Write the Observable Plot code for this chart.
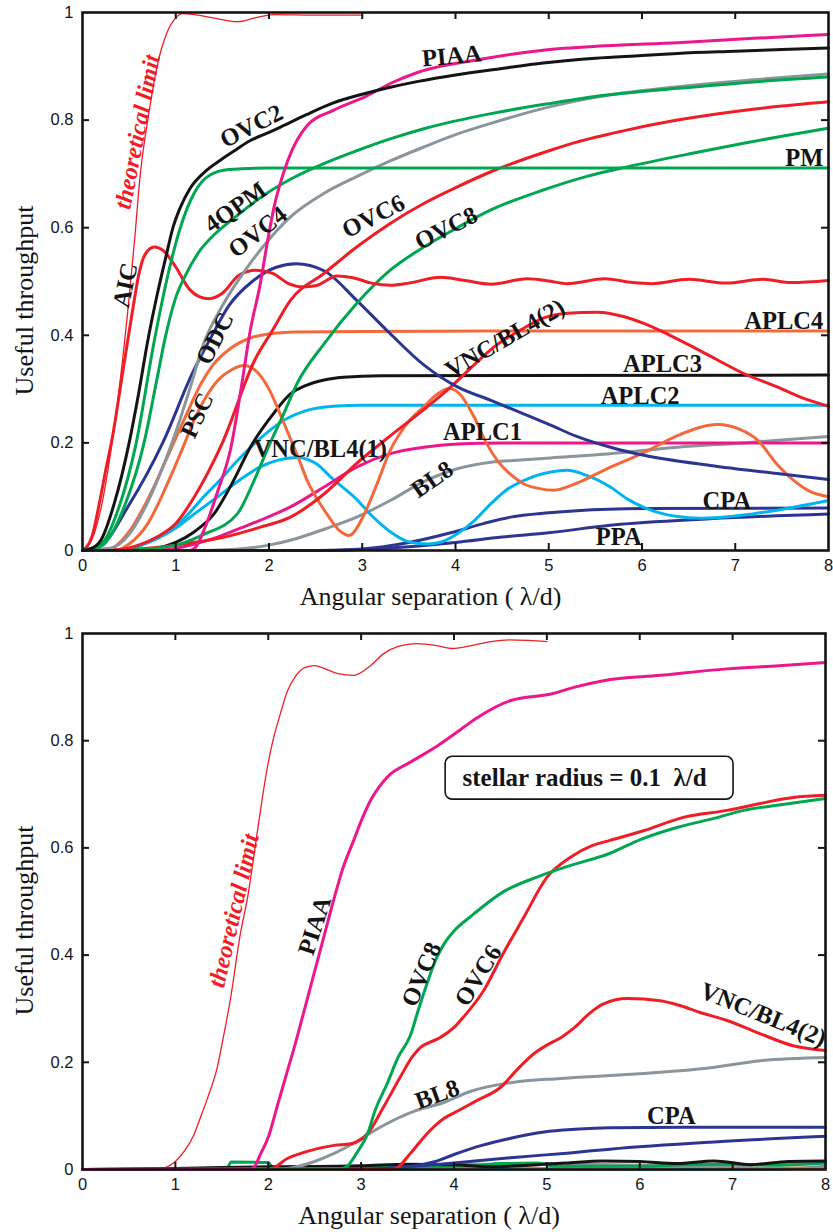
<!DOCTYPE html>
<html><head><meta charset="utf-8">
<script src="https://cdn.jsdelivr.net/npm/d3@7"></script>
<script src="https://cdn.jsdelivr.net/npm/@observablehq/plot@0.6"></script>
<style>
body{margin:0;background:#fff;}
#chart{width:833px;}
#chart svg{display:block;}
</style></head><body><div id="chart"></div>
<script>
// ---------- axis ticks ----------
const xTicks = [0,1,2,3,4,5,6,7,8];
const yTicks = [0,0.2,0.4,0.6,0.8,1];

// ---------- top panel series: [angular separation, useful throughput] ----------
const topTheory = [[0,0],[0.1,0.02],[0.2,0.08],[0.3,0.18],[0.4,0.31],[0.5,0.47],[0.56,0.58],[0.62,0.7],[0.7,0.8],[0.8,0.9],[0.9,0.96],[1.0,0.99],[1.07,0.998],[1.2,0.996],[1.4,0.99],[1.66,0.983],[1.85,0.99],[2.05,0.996],[2.5,0.995],[3.0,0.995]];
const topAIC = [[0,0],[0.1,0.025],[0.18,0.087],[0.25,0.15],[0.32,0.21],[0.43,0.33],[0.55,0.46],[0.6,0.51],[0.67,0.55],[0.77,0.564],[0.875,0.556],[1.0,0.527],[1.14,0.487],[1.25,0.472],[1.36,0.468],[1.5,0.478],[1.68,0.512],[1.86,0.521],[2.04,0.515],[2.21,0.496],[2.36,0.49],[2.5,0.492],[2.73,0.51],[2.9,0.507],[3.1,0.497],[3.3,0.493],[3.5,0.497],[3.84,0.508],[4.1,0.502],[4.38,0.495],[4.77,0.505],[5.0,0.501],[5.2,0.496],[5.6,0.505],[5.9,0.498],[6.1,0.496],[6.5,0.504],[6.9,0.497],[7.3,0.504],[7.6,0.498],[8,0.502]];
const topOVC2 = [[0,0],[0.1,0.004],[0.2,0.02],[0.34,0.087],[0.5,0.2],[0.6,0.29],[0.7,0.39],[0.8,0.475],[0.9,0.55],[0.97,0.6],[1.05,0.638],[1.15,0.672],[1.32,0.705],[1.5,0.728],[1.62,0.742],[1.8,0.762],[2.0,0.777],[2.16,0.79],[2.4,0.81],[2.69,0.832],[3.0,0.848],[3.3,0.861],[3.6,0.872],[4.0,0.884],[4.5,0.896],[4.94,0.906],[5.5,0.915],[6.0,0.92],[6.38,0.924],[7.0,0.928],[7.5,0.931],[8.0,0.934]];
const topPM = [[0,0],[0.2,0.012],[0.39,0.08],[0.57,0.195],[0.77,0.39],[0.9,0.5],[1.04,0.595],[1.2,0.665],[1.36,0.697],[1.57,0.708],[2.0,0.711],[3,0.711],[8,0.711]];
const top4QPM = [[0,0],[0.2,0.008],[0.46,0.087],[0.66,0.2],[0.8,0.32],[0.88,0.39],[1.0,0.47],[1.1,0.51],[1.27,0.56],[1.4,0.585],[1.64,0.62],[1.9,0.655],[2.23,0.69],[2.6,0.72],[2.94,0.743],[3.3,0.765],[3.66,0.784],[4.38,0.812],[5.02,0.831],[5.6,0.846],[6.38,0.859],[7.2,0.871],[8,0.88]];
const topOVC4 = [[0,0],[0.3,0.004],[0.5,0.03],[0.7,0.09],[0.85,0.15],[1.0,0.22],[1.15,0.3],[1.3,0.385],[1.5,0.455],[1.75,0.522],[2.0,0.578],[2.23,0.62],[2.6,0.665],[2.94,0.695],[3.3,0.724],[3.66,0.75],[4.0,0.773],[4.38,0.794],[5.02,0.825],[5.66,0.847],[6.38,0.862],[7.2,0.875],[8,0.886]];
const topODC = [[0,0],[0.2,0.01],[0.5,0.085],[0.86,0.2],[1.18,0.33],[1.39,0.4],[1.57,0.455],[1.82,0.5],[2.07,0.526],[2.29,0.533],[2.59,0.52],[2.94,0.465],[3.3,0.403],[3.66,0.345],[4.02,0.304],[4.38,0.279],[4.73,0.254],[5.02,0.233],[5.3,0.212],[5.7,0.19],[6.02,0.177],[6.73,0.158],[7.45,0.143],[8,0.132]];
const topPSC = [[0,0],[0.35,0],[0.5,0.012],[0.7,0.05],[0.9,0.12],[1.05,0.18],[1.23,0.255],[1.45,0.316],[1.6,0.336],[1.73,0.344],[1.86,0.334],[2.0,0.3],[2.1,0.262],[2.2,0.22],[2.32,0.17],[2.41,0.13],[2.52,0.095],[2.62,0.068],[2.75,0.038],[2.86,0.028],[3.0,0.06],[3.15,0.12],[3.3,0.186],[3.5,0.24],[3.66,0.267],[3.8,0.29],[3.93,0.301],[4.05,0.29],[4.2,0.248],[4.33,0.2],[4.45,0.167],[4.6,0.14],[4.73,0.124],[4.9,0.115],[5.05,0.112],[5.3,0.125],[5.6,0.15],[6.02,0.182],[6.4,0.215],[6.81,0.234],[7.05,0.225],[7.24,0.205],[7.45,0.16],[7.63,0.13],[7.8,0.11],[8,0.1]];
const topAPLC4 = [[0,0],[0.3,0.004],[0.5,0.035],[0.7,0.095],[0.9,0.17],[1.12,0.255],[1.27,0.31],[1.4,0.345],[1.59,0.376],[1.8,0.395],[1.98,0.402],[2.3,0.406],[3,0.407],[5,0.408],[8,0.408]];
const topAPLC3 = [[0,0],[0.6,0],[0.8,0.004],[1.0,0.015],[1.2,0.035],[1.41,0.068],[1.62,0.13],[1.8,0.192],[2.05,0.255],[2.23,0.291],[2.4,0.307],[2.59,0.317],[2.8,0.322],[3.2,0.325],[8,0.326]];
const topAPLC2 = [[0,0],[0.4,0],[0.6,0.008],[0.8,0.025],[1.0,0.045],[1.12,0.065],[1.3,0.1],[1.47,0.13],[1.65,0.165],[1.84,0.198],[2.0,0.222],[2.16,0.242],[2.4,0.26],[2.69,0.268],[3.0,0.27],[8,0.27]];
const topVNC1 = [[0,0],[0.4,0],[0.6,0.008],[0.8,0.022],[1.0,0.042],[1.2,0.068],[1.45,0.1],[1.7,0.133],[1.9,0.155],[2.1,0.168],[2.3,0.173],[2.5,0.162],[2.69,0.132],[2.94,0.095],[3.1,0.065],[3.3,0.035],[3.5,0.016],[3.7,0.012],[3.85,0.016],[4.02,0.031],[4.2,0.055],[4.38,0.087],[4.55,0.113],[4.73,0.13],[5.02,0.146],[5.2,0.149],[5.4,0.14],[5.66,0.118],[5.85,0.095],[6.02,0.08],[6.38,0.063],[6.63,0.06],[7.09,0.066],[7.45,0.075],[8,0.093]];
const topAPLC1 = [[0,0],[0.8,0],[1.0,0.004],[1.2,0.012],[1.4,0.022],[1.7,0.042],[2.0,0.063],[2.23,0.081],[2.59,0.118],[2.94,0.155],[3.3,0.18],[3.66,0.192],[4.02,0.198],[4.5,0.2],[8,0.2]];
const topVNC2 = [[0,0],[0.5,0.002],[1.0,0.01],[1.5,0.024],[1.9,0.043],[2.23,0.062],[2.59,0.105],[2.94,0.162],[3.3,0.213],[3.66,0.262],[3.93,0.301],[4.2,0.345],[4.41,0.378],[4.7,0.41],[4.94,0.432],[5.2,0.441],[5.52,0.443],[5.8,0.435],[6.02,0.422],[6.3,0.4],[6.55,0.378],[6.8,0.355],[7.09,0.329],[7.45,0.304],[7.7,0.285],[8,0.268]];
const topBL8 = [[0,0],[1.2,0],[1.6,0.002],[2.0,0.01],[2.23,0.019],[2.6,0.04],[2.94,0.062],[3.3,0.093],[3.66,0.128],[4.02,0.152],[4.38,0.164],[4.7,0.168],[5.02,0.172],[5.66,0.18],[6.38,0.192],[7.09,0.2],[8,0.212]];
const topCPA = [[0,0],[2.5,0],[3.0,0.003],[3.5,0.015],[3.95,0.033],[4.3,0.05],[4.59,0.062],[5.0,0.07],[5.3,0.074],[6.02,0.078],[8,0.079]];
const topPPA = [[0,0],[2.5,0],[3.0,0.002],[3.5,0.007],[4.0,0.015],[4.5,0.025],[5.0,0.033],[5.66,0.047],[6.73,0.059],[8,0.068]];
const topOVC6 = [[0,0],[0.4,0.002],[0.6,0.01],[0.8,0.025],[1.0,0.05],[1.2,0.1],[1.5,0.2],[1.85,0.355],[2.04,0.41],[2.23,0.465],[2.59,0.515],[2.94,0.564],[3.3,0.608],[3.66,0.645],[4.02,0.676],[4.38,0.704],[5.02,0.744],[5.3,0.759],[5.8,0.78],[6.38,0.8],[7.0,0.816],[7.5,0.826],[8,0.834]];
const topOVC8 = [[0,0],[0.6,0.002],[1.0,0.01],[1.3,0.03],[1.66,0.068],[1.84,0.13],[2.0,0.195],[2.16,0.255],[2.3,0.31],[2.59,0.384],[2.94,0.459],[3.3,0.521],[3.66,0.564],[4.02,0.6],[4.38,0.633],[4.94,0.67],[5.4,0.695],[5.84,0.713],[6.5,0.737],[7.09,0.757],[7.5,0.77],[8,0.785]];
const topPIAA = [[0,0],[1.15,0],[1.22,0.008],[1.33,0.05],[1.45,0.11],[1.59,0.19],[1.7,0.3],[1.8,0.41],[1.9,0.49],[2.0,0.59],[2.05,0.635],[2.2,0.724],[2.41,0.79],[2.69,0.818],[3.05,0.845],[3.3,0.868],[3.6,0.889],[4.27,0.913],[4.94,0.93],[5.6,0.938],[6.38,0.944],[7.2,0.952],[8,0.959]];

// ---------- bottom panel series (stellar radius = 0.1 λ/d) ----------
const botTheory = [[0,0],[0.8,0],[0.9,0.004],[1.0,0.015],[1.1,0.035],[1.2,0.065],[1.27,0.097],[1.35,0.135],[1.45,0.19],[1.52,0.25],[1.59,0.315],[1.7,0.44],[1.78,0.51],[1.88,0.627],[1.99,0.75],[2.05,0.8],[2.13,0.85],[2.2,0.89],[2.3,0.922],[2.4,0.937],[2.5,0.94],[2.6,0.935],[2.75,0.925],[2.92,0.922],[3.1,0.94],[3.24,0.962],[3.4,0.976],[3.6,0.981],[3.8,0.978],[3.99,0.972],[4.2,0.978],[4.4,0.985],[4.6,0.988],[4.8,0.987],[5.0,0.985]];
const botPIAA = [[0,0],[1.8,0],[1.85,0.005],[1.92,0.03],[2.0,0.06],[2.1,0.12],[2.2,0.18],[2.3,0.24],[2.4,0.305],[2.5,0.37],[2.6,0.435],[2.7,0.5],[2.8,0.56],[2.92,0.614],[3.0,0.65],[3.1,0.688],[3.28,0.732],[3.53,0.76],[3.82,0.79],[4.0,0.812],[4.25,0.843],[4.61,0.875],[5.07,0.888],[5.3,0.9],[5.61,0.912],[6.22,0.922],[6.94,0.934],[7.5,0.94],[8,0.946]];
const botOVC8 = [[0,0],[2.8,0.002],[2.85,0.006],[2.95,0.03],[3.07,0.067],[3.15,0.11],[3.28,0.16],[3.4,0.21],[3.53,0.25],[3.62,0.3],[3.71,0.347],[3.8,0.39],[3.89,0.42],[4.0,0.445],[4.18,0.472],[4.53,0.518],[4.9,0.546],[5.25,0.567],[5.68,0.59],[6.0,0.615],[6.4,0.638],[6.8,0.655],[7.12,0.67],[7.5,0.68],[8,0.692]];
const botOVC6 = [[0,0],[2.0,0],[2.06,0.003],[2.2,0.02],[2.35,0.03],[2.53,0.039],[2.71,0.045],[2.89,0.048],[3.0,0.056],[3.07,0.067],[3.24,0.116],[3.42,0.172],[3.55,0.21],[3.64,0.228],[3.75,0.238],[3.85,0.246],[4.0,0.265],[4.1,0.284],[4.32,0.334],[4.53,0.403],[4.75,0.47],[5.0,0.545],[5.25,0.582],[5.5,0.605],[5.68,0.614],[6.04,0.632],[6.47,0.657],[6.94,0.67],[7.3,0.683],[7.65,0.694],[8,0.698]];
const botVNC2 = [[0,0],[3.35,0],[3.53,0.03],[3.7,0.065],[3.89,0.095],[4.05,0.11],[4.25,0.129],[4.5,0.153],[4.7,0.19],[4.86,0.216],[5.0,0.232],[5.15,0.246],[5.3,0.265],[5.45,0.29],[5.61,0.309],[5.87,0.319],[6.22,0.315],[6.45,0.305],[6.65,0.293],[6.94,0.278],[7.3,0.253],[7.65,0.231],[8,0.222]];
const botBL8 = [[0,0],[2.0,0],[2.24,0.003],[2.5,0.015],[2.71,0.03],[2.9,0.047],[3.07,0.065],[3.25,0.083],[3.56,0.108],[3.89,0.125],[4.18,0.146],[4.61,0.162],[5.15,0.17],[6.04,0.179],[6.76,0.19],[7.3,0.203],[8,0.209]];
const botCPA = [[0,0],[3.0,0],[3.5,0.005],[3.8,0.015],[4.0,0.028],[4.3,0.045],[4.6,0.058],[4.97,0.07],[5.3,0.075],[5.68,0.078],[6.5,0.079],[8,0.079]];
const botPPA = [[0,0],[3.0,0],[3.5,0.005],[4.0,0.012],[4.61,0.022],[5.25,0.031],[5.68,0.038],[6.76,0.051],[8,0.062]];
const botBlack = [[0,0],[1,0.002],[2,0.005],[3,0.007],[3.5,0.01],[4,0.009],[4.4,0.005],[4.8,0.008],[5.2,0.012],[5.6,0.016],[6.0,0.015],[6.4,0.011],[6.8,0.016],[7.2,0.009],[7.6,0.015],[8,0.016]];
const botGreen = [[0,0],[1.55,0],[1.6,0.014],[2.0,0.013],[2.05,0.004],[3.0,0.004],[4.2,0.007],[4.5,0.011],[4.9,0.012],[5.1,0.006],[6.0,0.006],[6.5,0.009],[7.0,0.01],[7.5,0.008],[8,0.012]];
const botGrey = [[0,0],[3,0.005],[3.6,0.009],[4.4,0.01],[5,0.011],[6,0.008],[7,0.007],[7.5,0.01],[8,0.013]];
const botOrange = [[0,0],[4,0.002],[4.5,0.005],[5,0.002],[6,0.003],[6.6,0.005],[7,0.002],[8,0.003]];
const botCyan = [[0,0],[7.4,0],[8,0.006]];

// ---------- curve labels: [text, x, y, rotation] ----------
const topLabels = [
  ["PIAA",3.96,0.919,-5],["OVC2",1.81,0.789,-27],["PM",7.74,0.729,0],
  ["4QPM",1.64,0.638,-35],["OVC4",1.88,0.592,-38],["OVC6",3.12,0.621,-27],
  ["OVC8",3.90,0.599,-27],["AIC",0.46,0.493,-78],["ODC",1.42,0.394,-63],
  ["PSC",1.23,0.251,-65],["VNC/BL4(1)",2.55,0.188,0],["VNC/BL4(2)",4.53,0.394,-30],
  ["APLC4",7.52,0.426,0],["APLC3",6.22,0.346,0],["APLC2",5.98,0.287,0],
  ["APLC1",4.29,0.22,0],["BL8",3.75,0.132,-35],["CPA",6.91,0.091,0],["PPA",5.75,0.024,0]
];
const topTheoryLabel = [["theoretical limit",0.59,0.778,-79]];
const botLabels = [
  ["PIAA",2.50,0.455,-72],["OVC8",3.65,0.364,-67],["OVC6",4.26,0.362,-58],
  ["BL8",3.82,0.14,-20],["VNC/BL4(2)",7.33,0.289,22],["CPA",6.34,0.099,0]
];
const botTheoryLabel = [["theoretical limit",1.63,0.483,-77]];
const noteText = "stellar radius = 0.1  λ/d";
const noteBox = [{x1:3.91,x2:7.01,y1:0.69,y2:0.77}];

// ---------- colours ----------
const RED="#ee1d26", BLACK="#141414", GREEN="#00a650", GREY="#8a959c", NAVY="#2c3591", MAGENTA="#ec178c", ORANGE="#f26a3b", CYAN="#00b5ee";

const topSeries = [
  [topBL8,GREY],[topPPA,NAVY],[topCPA,NAVY],[topVNC1,CYAN],[topAPLC1,MAGENTA],[topAPLC2,CYAN],
  [topAPLC3,BLACK],[topPSC,ORANGE],[topAPLC4,ORANGE],[topVNC2,RED],[topODC,NAVY],
  [topOVC8,GREEN],[topOVC6,RED],[topAIC,RED],[topOVC4,GREY],[top4QPM,GREEN],[topPM,GREEN],
  [topPIAA,MAGENTA],[topOVC2,BLACK]
];
const botSeries = [
  [botCyan,CYAN],[botOrange,ORANGE],[botGrey,GREY],[botGreen,GREEN],[botBlack,BLACK],
  [botPPA,NAVY],[botCPA,NAVY],[botBL8,GREY],[botVNC2,RED],[botOVC6,RED],[botOVC8,GREEN],[botPIAA,MAGENTA]
];

const SERIF = "'Liberation Serif','Times New Roman',serif";
const SANS = "'Liberation Sans',Arial,Helvetica,sans-serif";

function panel({series, theory, labels, theoryLabel, height, marginTop, marginBottom, marginRight, extra}) {
  const W = 833, marginLeft = 82;
  const plotH = height - marginTop - marginBottom;
  const plotW = W - marginLeft - marginRight;
  const inner = xTicks.slice(1, -1), innerY = yTicks.slice(1, -1);
  const tk = {stroke: BLACK, strokeWidth: 2};
  return Plot.plot({
    width: W, height, marginLeft, marginRight, marginTop, marginBottom,
    x: {domain: [0, 8]}, y: {domain: [0, 1]},
    style: {fontFamily: SANS, fontSize: "16px", color: BLACK, background: "#fff"},
    marks: [
      Plot.axisX(xTicks, {tickSize: 0, tickPadding: 9, label: null, tickFormat: d => String(d), fontSize: 16.5}),
      Plot.axisY(yTicks, {tickSize: 0, tickPadding: 9, label: null, tickFormat: d => String(d), fontSize: 16.5}),
      Plot.line(theory, {x: d => d[0], y: d => d[1], stroke: RED, strokeWidth: 1.3, curve: "monotone-x"}),
      ...series.map(([pts, c]) => Plot.line(pts, {x: d => d[0], y: d => d[1], stroke: c, strokeWidth: 3, curve: "monotone-x", strokeLinejoin: "round"})),
      ...(extra || []),
      Plot.ruleX(inner, {x: d => d, insetTop: plotH - 7, ...tk}),
      Plot.ruleX(inner, {x: d => d, insetBottom: plotH - 7, ...tk}),
      Plot.ruleY(innerY, {y: d => d, insetRight: plotW - 7, ...tk}),
      Plot.ruleY(innerY, {y: d => d, insetLeft: plotW - 7, ...tk}),
      Plot.frame({stroke: BLACK, strokeWidth: 2.6}),
      Plot.text(labels, {x: d => d[1], y: d => d[2], text: d => d[0], rotate: d => d[3], fontFamily: SERIF, fontWeight: "bold", fontSize: 24.5, fill: BLACK}),
      Plot.text(theoryLabel, {x: d => d[1], y: d => d[2], text: d => d[0], rotate: d => d[3], fontFamily: SERIF, fontWeight: "bold", fontStyle: "italic", fontSize: 24, fill: RED}),
      Plot.text(["Angular separation ( λ/d)"], {frameAnchor: "bottom", textAnchor: "middle", lineAnchor: "middle", dx: -25, dy: 46, fontFamily: SERIF, fontSize: 26, fill: BLACK}),
      Plot.text(["Useful throughput"], {frameAnchor: "left", textAnchor: "middle", lineAnchor: "middle", dx: -58, dy: 19, rotate: -90, fontFamily: SERIF, fontSize: 26, fill: BLACK})
    ]
  });
}

const topPanel = panel({
  series: topSeries, theory: topTheory, labels: topLabels, theoryLabel: topTheoryLabel,
  height: 612, marginTop: 12, marginBottom: 62, marginRight: 5
});
const bottomPanel = panel({
  series: botSeries, theory: botTheory, labels: botLabels, theoryLabel: botTheoryLabel,
  height: 620, marginTop: 21, marginBottom: 63, marginRight: 8,
  extra: [
    Plot.rect(noteBox, {x1: "x1", x2: "x2", y1: "y1", y2: "y2", fill: "#fff", stroke: BLACK, strokeWidth: 1.6, rx: 7}),
    Plot.text([noteText], {x: (noteBox[0].x1 + noteBox[0].x2) / 2, y: (noteBox[0].y1 + noteBox[0].y2) / 2, text: d => d, fontFamily: SERIF, fontWeight: "bold", fontSize: 25, fill: BLACK, dx: -5})
  ]
});
document.getElementById("chart").append(topPanel, bottomPanel);
</script>
</body></html>
